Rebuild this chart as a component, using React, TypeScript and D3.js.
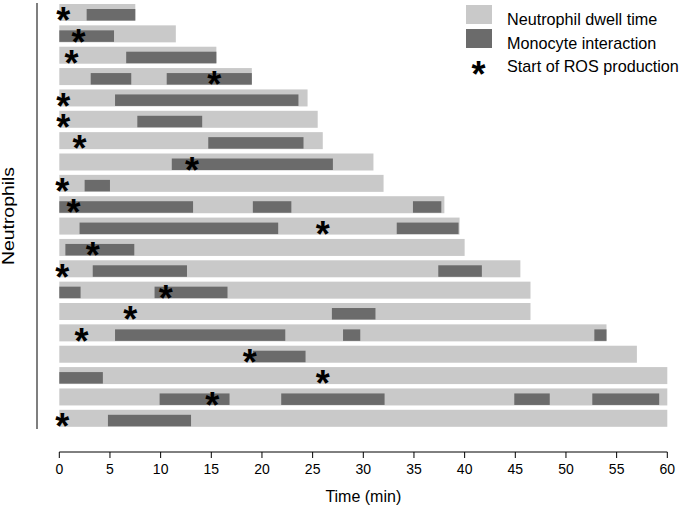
import React from "react";
import * as d3 from "d3";

// one row per neutrophil, top to bottom
const dwellTimes = [7.5, 11.5, 15.5, 19, 24.5, 25.5, 26, 31, 32, 38, 39.5, 40, 45.5, 46.5, 46.5, 54, 57, 60, 60, 60];

// monocyte interactions per row: [start, end] in minutes
const interactions: [number, number][][] = [
  [[2.7, 7.5]],
  [[0, 5.4]],
  [[6.6, 15.5]],
  [[3.1, 7.1], [10.6, 19]],
  [[5.5, 23.6]],
  [[7.7, 14.1]],
  [[14.7, 24.1]],
  [[11.1, 27]],
  [[2.5, 5]],
  [[0, 13.2], [19.1, 22.9], [34.9, 37.7]],
  [[2, 21.6], [33.3, 39.4]],
  [[0.6, 7.4]],
  [[3.3, 12.6], [37.4, 41.7]],
  [[0, 2.1], [9.4, 16.6]],
  [[26.9, 31.2]],
  [[5.5, 22.3], [28, 29.7], [52.8, 54]],
  [[19.1, 24.3]],
  [[0, 4.3]],
  [[9.9, 16.8], [21.9, 32.1], [44.9, 48.4], [52.6, 59.2]],
  [[4.8, 13]],
];

// start of ROS production per row
const rosStart = [0.4, 1.9, 1.2, 15.3, 0.4, 0.4, 2, 13.1, 0.3, 1.4, 26, 3.3, 0.3, 10.5, 7, 2.2, 18.8, 26, 15.1, 0.3];

const xTicks = [0, 5, 10, 15, 20, 25, 30, 35, 40, 45, 50, 55, 60];

const legendItems = ["Neutrophil dwell time", "Monocyte interaction", "Start of ROS production"];

const LIGHT = "#c9c9c9";
const DARK = "#6b6b6b";
const FONT = "'Liberation Sans', Arial, sans-serif";

export default function App() {
  const width = 680;
  const height = 508;

  const x = d3.scaleLinear().domain([0, 60]).range([59.3, 667.3]);
  const y = d3
    .scaleBand<number>()
    .domain(d3.range(dwellTimes.length))
    .range([4, 426.8])
    .paddingInner(0.204)
    .paddingOuter(0);
  const bw = y.bandwidth();

  const axisY = 452;
  const starSize = 36;
  const starOff = starSize * 0.52;

  return (
    <svg
      width={width}
      height={height}
      style={{ position: "absolute", left: 0, top: 0, background: "#fff" }}
      fontFamily={FONT}
    >
      {/* rows */}
      {dwellTimes.map((d, i) => (
        <g key={i}>
          <rect x={x(0)} y={y(i)} width={x(d) - x(0)} height={bw} fill={LIGHT} />
          {interactions[i].map(([s, e], j) => (
            <rect
              key={j}
              x={x(s)}
              y={(y(i) as number) + 5}
              width={x(e) - x(s)}
              height={bw - 5.5}
              fill={DARK}
            />
          ))}
          <text
            x={x(rosStart[i])}
            y={(y(i) as number) + bw / 2 + 2 + starOff}
            textAnchor="middle"
            fontSize={starSize}
            fontWeight="bold"
            fill="#000"
          >
            *
          </text>
        </g>
      ))}

      {/* y axis line + label */}
      <line x1={37} x2={37} y1={3} y2={429} stroke="#555" strokeWidth={1.5} />
      <text
        transform={`translate(14,216) rotate(-90)`}
        textAnchor="middle"
        fontSize={16}
        textLength={98}
        lengthAdjust="spacingAndGlyphs"
        fill="#000"
      >
        Neutrophils
      </text>

      {/* x axis */}
      <line x1={x(0)} x2={x(60)} y1={axisY} y2={axisY} stroke="#000" strokeWidth={1} />
      {xTicks.map((t) => (
        <g key={t}>
          <line x1={x(t)} x2={x(t)} y1={axisY} y2={axisY + 6} stroke="#000" />
          <text x={x(t)} y={axisY + 22} textAnchor="middle" fontSize={14} fill="#000">
            {t}
          </text>
        </g>
      ))}
      <text x={x(30)} y={502} textAnchor="middle" fontSize={16} fill="#000">
        Time (min)
      </text>

      {/* legend */}
      <rect x={466} y={5} width={26} height={19} fill={LIGHT} />
      <rect x={466} y={29} width={26} height={19} fill={DARK} />
      <text x={478.5} y={68 + starOff} textAnchor="middle" fontSize={starSize} fontWeight="bold">
        *
      </text>
      {legendItems.map((t, i) => (
        <text key={t} x={507} y={25 + i * 23.5} fontSize={16.2} fill="#000">
          {t}
        </text>
      ))}
    </svg>
  );
}
